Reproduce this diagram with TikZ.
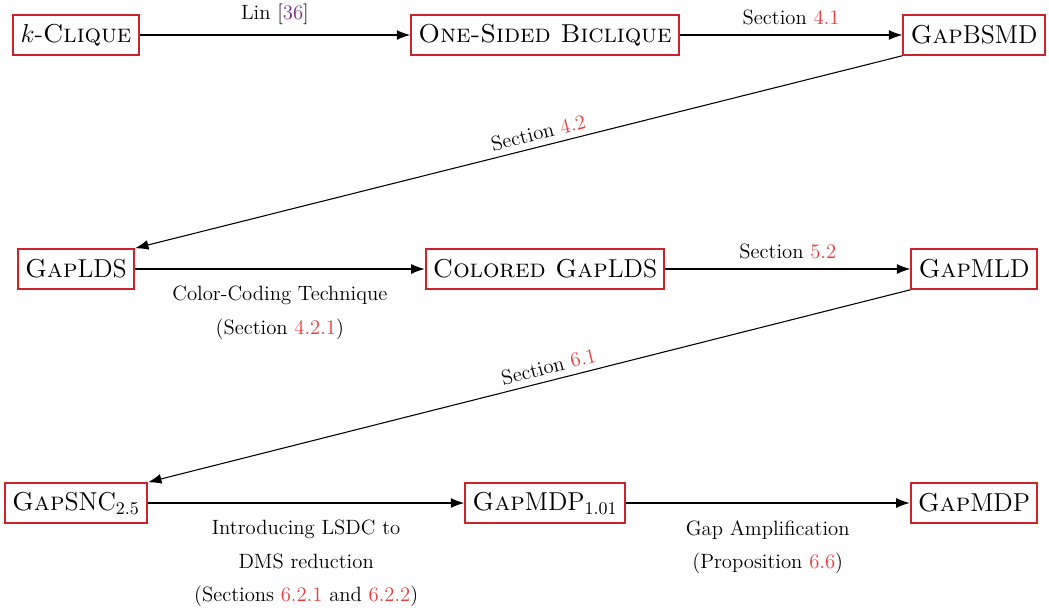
\documentclass[tikz,border=0pt]{standalone}
\usepackage{amsmath}
\usepackage{xcolor}
\usetikzlibrary{arrows.meta,positioning}

\definecolor{boxred}{RGB}{204,34,42}
\definecolor{refred}{RGB}{236,58,58}
\definecolor{citepurple}{RGB}{122,42,122}
\newcommand{\secref}[1]{\textcolor{refred}{#1}}

\begin{document}
\begin{tikzpicture}[x=0.01955cm, y=-0.01955cm,
    prob/.style={draw=boxred, line width=1.1pt, font=\Large, minimum height=22pt, inner xsep=4pt},
    lbl/.style={font=\fontsize{11.5}{18.5}\selectfont, align=center},
    arr/.style={-{Latex[length=7.5pt,width=5.5pt]}, line width=0.6pt}]

    \useasboundingbox (0,0) rectangle (1049,613);

    % First row of problems
    \node[prob] (kclique) at (76,35) {$k$-\textsc{Clique}};
    \node[prob] (onesided) at (545,35) {\textsc{One-Sided Biclique}};
    \node[prob] (gapbsmd) at (974,35) {\textsc{Gap}BSMD};

    % Second row of problems
    \node[prob] (gaplds) at (76,269) {\textsc{Gap}LDS};
    \node[prob] (colored) at (545,269) {\textsc{Colored Gap}LDS};
    \node[prob] (gapmld) at (974,269) {\textsc{Gap}MLD};

    % Third row of problems
    \node[prob] (gapsnc) at (76,503) {\textsc{Gap}SNC$_{2.5}$};
    \node[prob] (gapmdpa) at (545,503) {\textsc{Gap}MDP$_{1.01}$};
    \node[prob] (gapmdp) at (974,503) {\textsc{Gap}MDP};

    % Reductions along the first row
    \draw[arr] (kclique) -- (onesided)
        node[midway, above=2pt, lbl] {Lin [\textcolor{citepurple}{36}]};
    \draw[arr] (onesided) -- (gapbsmd)
        node[midway, above=2pt, lbl] {Section \secref{4.1}};

    % Down to the second row
    \draw[arr] (gapbsmd.south west) -- (gaplds.north east)
        node[pos=0.47, above, sloped, lbl] {Section \secref{4.2}};

    % Reductions along the second row
    \draw[arr] (gaplds) -- (colored)
        node[midway, below=6pt, lbl] {Color-Coding Technique\\(Section \secref{4.2.1})};
    \draw[arr] (colored) -- (gapmld)
        node[midway, above=2pt, lbl] {Section \secref{5.2}};

    % Down to the third row
    \draw[arr] (gapmld.south west) -- (gapsnc.north east)
        node[pos=0.47, above, sloped, lbl] {Section \secref{6.1}};

    % Reductions along the third row
    \draw[arr] (gapsnc) -- (gapmdpa)
        node[midway, below=6pt, lbl] {Introducing LSDC to\\DMS reduction\\(Sections \secref{6.2.1} and \secref{6.2.2})};
    \draw[arr] (gapmdpa) -- (gapmdp)
        node[midway, below=6pt, lbl] {Gap Amplification\\(Proposition \secref{6.6})};
\end{tikzpicture}
\end{document}
